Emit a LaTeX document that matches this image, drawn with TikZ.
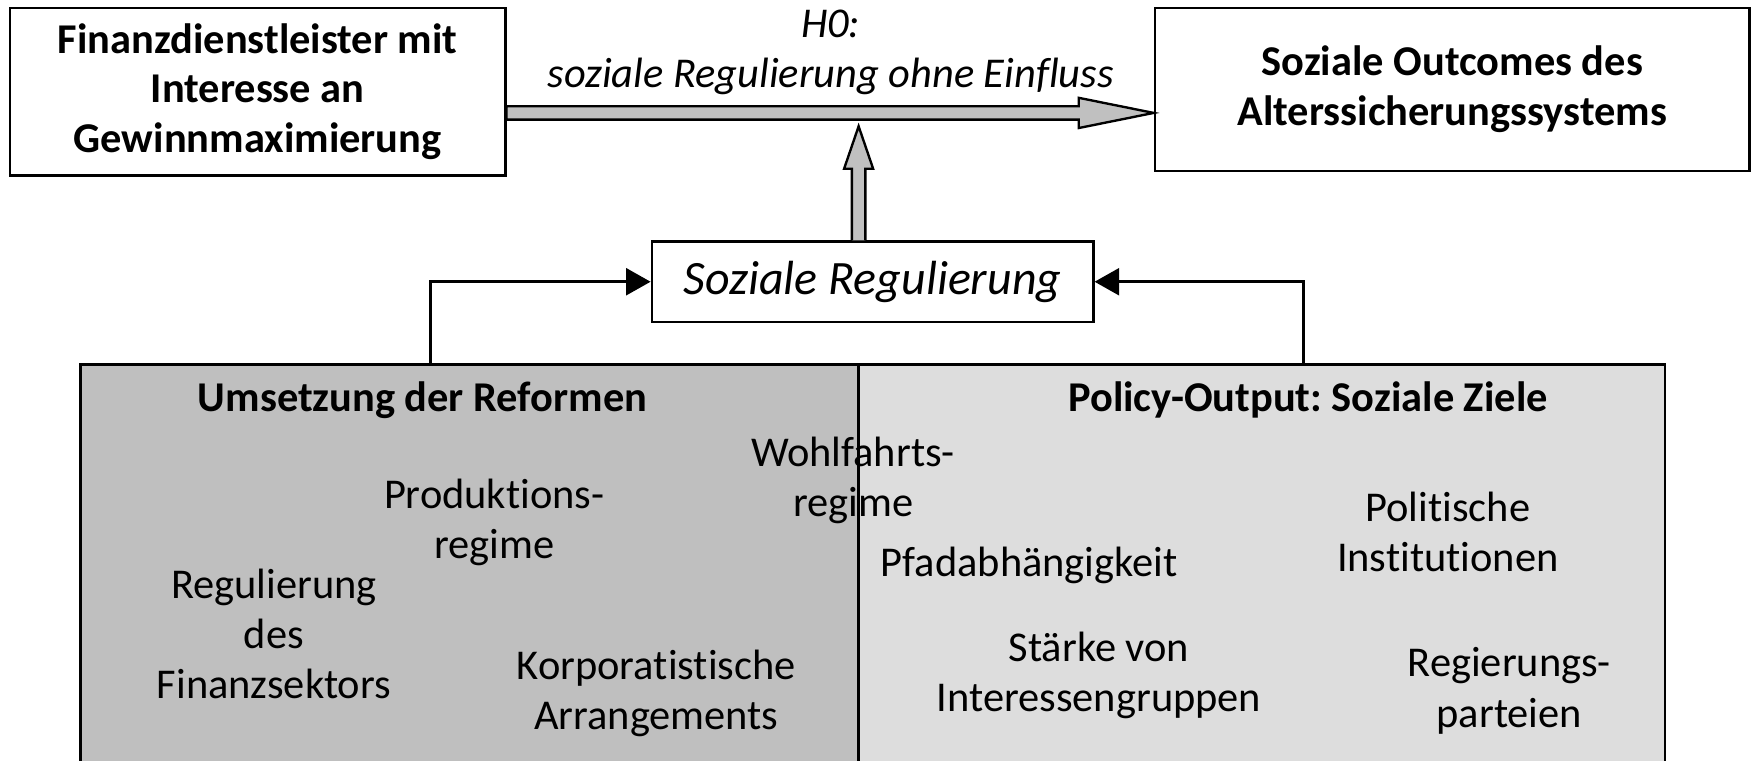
\documentclass[tikz,border=0pt]{standalone}
\usepackage{fontspec}
\setmainfont{Carlito}[Ligatures={NoCommon,NoContextual}, Contextuals=NoAlternate]
\frenchspacing
\usepackage{tikz}
\usetikzlibrary{calc,arrows.meta}
\definecolor{fatgray}{RGB}{192,192,192}
\definecolor{leftgray}{RGB}{191,191,191}
\definecolor{rightgray}{RGB}{221,221,221}
\tikzset{box/.style={draw, line width=0.6pt, align=center, inner sep=0pt, font=\fontsize{10.8}{12.6}\selectfont\bfseries},
         regbox/.style={draw, line width=0.6pt, inner sep=0pt, minimum width=3.95cm, minimum height=0.72cm, font=\fontsize{12.2}{14}\selectfont\itshape},
         panel/.style={draw, line width=0.6pt, inner sep=0pt, outer sep=0pt, anchor=north west, minimum height=3.9cm},
         fat/.style={draw, line width=0.6pt, fill=fatgray, line join=miter},
         conn/.style={line width=0.8pt, -{Triangle[length=0.22cm,width=0.24cm]}},
         hyp/.style={align=center, inner sep=0pt, font=\fontsize{10.8}{12.8}\selectfont\itshape},
         head/.style={inner sep=0pt, font=\fontsize{10.8}{12.8}\selectfont\bfseries},
         factor/.style={align=center, inner sep=0pt, font=\fontsize{10.8}{12.8}\selectfont}}

\begin{document}
\begin{tikzpicture}
	\clip (0,0) rectangle (15.68,6.8);
	\node[box, minimum width=4.43cm, minimum height=1.5cm] (fin) at (2.305,5.98) {Finanzdienstleister mit\\Interesse an\\Gewinnmaximierung};
	\node[box, minimum width=5.32cm, minimum height=1.46cm] (out) at (12.99,6.0) {Soziale Outcomes des\\Alterssicherungssystems};
	\node[regbox] (soz) at (7.805,4.28) {Soziale Regulierung};
	\node[hyp] (h0) at (7.43,6.33) {H0:\\soziale Regulierung ohne Einfluss};

	\coordinate (hs) at ($(fin.east)+(0,-0.19)$);
	\coordinate (ht) at (out.west |- hs);
	\draw[fat] ($(hs)+(0,0.06)$) -- ($(ht)+(-0.67,0.06)$) -- ($(ht)+(-0.67,0.135)$) -- (ht)
		-- ($(ht)+(-0.67,-0.135)$) -- ($(ht)+(-0.67,-0.06)$) -- ($(hs)+(0,-0.06)$) -- cycle;
	\coordinate (vs) at ($(soz.north)+(-0.125,0)$);
	\coordinate (vt) at ($(vs)+(0,1.02)$);
	\draw[fat] ($(vs)+(-0.06,0)$) -- ($(vt)+(-0.06,-0.38)$) -- ($(vt)+(-0.13,-0.38)$) -- (vt)
		-- ($(vt)+(0.13,-0.38)$) -- ($(vt)+(0.06,-0.38)$) -- ($(vs)+(0.06,0)$);

	\node[panel, fill=leftgray, minimum width=6.96cm] (lpanel) at (0.72,3.54) {};
	\node[panel, fill=rightgray, minimum width=7.21cm] (rpanel) at (7.68,3.54) {};

	\node[head] (ums) at (3.78,3.22) {Umsetzung der Reformen};
	\node[head] (pol) at (11.70,3.22) {Policy-Output: Soziale Ziele};
	\node[factor] (wohl) at (7.63,2.505) {Wohlfahrts-\\regime};
	\node[factor] (prod) at (4.42,2.125) {Produktions-\\regime};
	\node[factor] (fsek) at (2.45,1.13) {Regulierung\\des\\Finanzsektors};
	\node[factor] (korp) at (5.87,0.595) {Korporatistische\\Arrangements};
	\node[factor] (pfad) at (9.205,1.74) {Pfadabhängigkeit};
	\node[factor] (inst) at (12.95,2.045) {Politische\\Institutionen};
	\node[factor] (ig) at (9.83,0.76) {Stärke von\\Interessengruppen};
	\node[factor] (part) at (13.50,0.62) {Regierungs-\\parteien};
	\draw[line width=0.6pt] (rpanel.north west) -- (rpanel.south west);

	\draw[conn] ($(lpanel.north west)!(ums.north)!(lpanel.north east)+(0.07,0)$) |- (soz.west);
	\draw[conn] ($(rpanel.north west)!(pol.north)!(rpanel.north east)+(-0.04,0)$) |- (soz.east);
\end{tikzpicture}
\end{document}
